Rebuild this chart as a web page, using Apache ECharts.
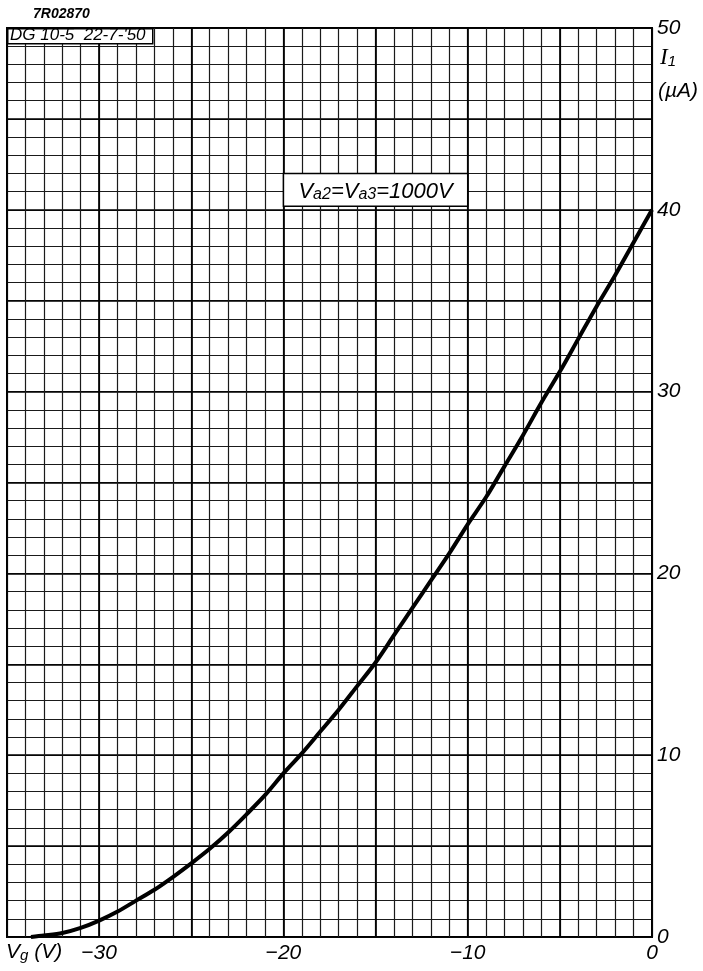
<!DOCTYPE html>
<html>
<head>
<meta charset="utf-8">
<script src="https://cdn.jsdelivr.net/npm/echarts@6/dist/echarts.min.js"></script>
<style>
html, body { margin: 0; padding: 0; background: #fff; }
#chart { width: 703px; height: 971px; }
</style>
</head>
<body>
<div id="chart"></div>
<script>
// grid voltage Vg (V) and current I1 (uA)
var vgData = [-33.7, -33, -32, -31, -30, -29, -28, -27, -26, -25, -24, -23, -22, -21, -20, -19, -18, -17,
              -16, -15, -14, -13, -12, -11, -10, -9, -8, -7, -6, -5, -4, -3, -2, -1, 0];
var i1Data = [0, 0.08, 0.22, 0.5, 0.9, 1.4, 2.0, 2.6, 3.3, 4.05, 4.85, 5.75, 6.75, 7.8, 9.0, 10.1, 11.3, 12.5,
              13.8, 15.1, 16.6, 18.1, 19.6, 21.1, 22.7, 24.2, 25.9, 27.6, 29.4, 31.1, 32.9, 34.7, 36.4, 38.2, 40];

var xTickLabels = [-30, -20, -10, 0];
var yTickLabels = [0, 10, 20, 30, 40, 50];

var FONT = 'Liberation Sans';

// pairs for the line series
var curve = vgData.map(function (v, i) { return [v, i1Data[i]]; });

var chart = echarts.init(document.getElementById('chart'));

var option = {
  animation: false,
  backgroundColor: '#fff',
  grid: {
    left: 7, right: 51, top: 28, bottom: 34,
    show: true, borderColor: '#000', borderWidth: 2, backgroundColor: 'transparent'
  },
  xAxis: [
    {
      // 1 V grid + labels
      type: 'value', min: -35, max: 0, interval: 1, position: 'bottom',
      axisLine: { show: false },
      axisTick: { show: false },
      axisLabel: {
        margin: 6, fontFamily: FONT, fontStyle: 'italic', fontSize: 21, color: '#000',
        formatter: function (v) {
          if (xTickLabels.indexOf(v) < 0) return '';
          return v < 0 ? '\u2212' + Math.abs(v) : String(v);
        }
      },
      splitLine: { show: true, lineStyle: { color: '#1a1a1a', width: 1.2 } }
    },
    {
      // slightly heavier 5 V lines
      type: 'value', min: -35, max: 0, interval: 5,
      axisLine: { show: false }, axisTick: { show: false }, axisLabel: { show: false },
      splitLine: { show: true, lineStyle: { color: '#000', width: 1.7 } }
    }
  ],
  yAxis: [
    {
      type: 'value', min: 0, max: 50, interval: 1, position: 'right',
      axisLine: { show: false },
      axisTick: { show: false },
      axisLabel: {
        margin: 5, fontFamily: FONT, fontStyle: 'italic', fontSize: 21, color: '#000',
        formatter: function (v) {
          return yTickLabels.indexOf(v) < 0 ? '' : String(v);
        }
      },
      splitLine: { show: true, lineStyle: { color: '#1a1a1a', width: 1.2 } }
    },
    {
      type: 'value', min: 0, max: 50, interval: 5, position: 'left',
      axisLine: { show: false }, axisTick: { show: false }, axisLabel: { show: false },
      splitLine: { show: true, lineStyle: { color: '#000', width: 1.7 } }
    }
  ],
  series: [
    {
      type: 'line',
      data: curve,
      xAxisIndex: 0,
      yAxisIndex: 0,
      smooth: 0.3,
      symbol: 'none',
      lineStyle: { color: '#000', width: 4 },
      markArea: {
        silent: true,
        itemStyle: { color: '#fff', borderColor: '#000', borderWidth: 1.5 },
        label: {
          show: true, position: 'inside',
          formatter: '{m|V}{s|a2}{m|=V}{s|a3}{m|=1000V}',
          rich: {
            m: { fontFamily: FONT, fontStyle: 'italic', fontSize: 22, color: '#000', lineHeight: 26, verticalAlign: 'bottom' },
            s: { fontFamily: FONT, fontStyle: 'italic', fontSize: 16, color: '#000', lineHeight: 22, verticalAlign: 'bottom' }
          }
        },
        data: [[{ coord: [-20, 42] }, { coord: [-10, 40.2] }]]
      }
    }
  ],
  graphic: [
    {
      type: 'text', left: 33, top: 7,
      style: { text: '7R02870', font: 'italic bold 14px "Liberation Sans"', fill: '#000' }
    },
    {
      type: 'rect', left: 7, top: 28, z: 10,
      shape: { width: 145, height: 15 },
      style: { fill: '#fff', stroke: '#000', lineWidth: 1.5 }
    },
    {
      type: 'text', left: 10, top: 27, z: 11,
      style: { text: "DG 10-5  22-7-'50", font: 'italic 17px "Liberation Sans"', fill: '#000' }
    },
    {
      type: 'text', left: 660, top: 46,
      style: {
        text: '{m|I}{s|1}',
        rich: {
          m: { fontFamily: 'Liberation Serif', fontStyle: 'italic', fontSize: 23, fill: '#000', lineHeight: 24, verticalAlign: 'bottom' },
          s: { fontFamily: FONT, fontStyle: 'italic', fontSize: 15, fill: '#000', lineHeight: 20, verticalAlign: 'bottom' }
        }
      }
    },
    {
      type: 'text', left: 658, top: 81,
      style: { text: '(\u00b5A)', font: 'italic 21px "Liberation Sans"', fill: '#000' }
    },
    {
      type: 'text', left: 6, top: 942,
      style: {
        text: '{m|V}{s|g}{m| (V)}',
        rich: {
          m: { fontFamily: FONT, fontStyle: 'italic', fontSize: 21, fill: '#000', lineHeight: 24, verticalAlign: 'bottom' },
          s: { fontFamily: FONT, fontStyle: 'italic', fontSize: 15, fill: '#000', lineHeight: 20, verticalAlign: 'bottom' }
        }
      }
    }
  ]
};

chart.setOption(option);
</script>
</body>
</html>
